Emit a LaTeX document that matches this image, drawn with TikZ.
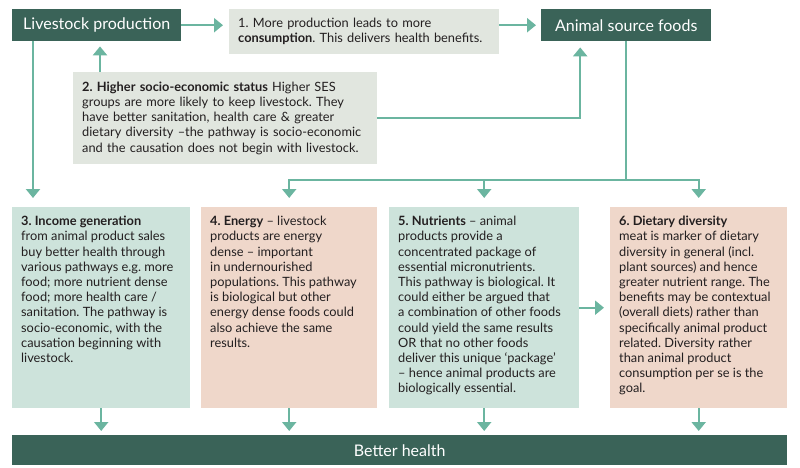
\documentclass[tikz,border=0pt]{standalone}
\usepackage{fontspec}
\setmainfont{Lato}
\usetikzlibrary{arrows.meta,positioning}

\definecolor{darkgreen}{HTML}{3A6358}
\definecolor{arrowgreen}{HTML}{6BB5A0}
\definecolor{greybox}{HTML}{E1E6DF}
\definecolor{mintbox}{HTML}{CDE3DB}
\definecolor{peachbox}{HTML}{EFD7CA}
\definecolor{inktext}{HTML}{231F20}

\newcommand\bodyfont{\fontsize{12.8}{15.2}\selectfont\frenchspacing}
\newcommand\panelbox[2]{\parbox[t][183pt][t]{#1}{\raggedright #2}}

\begin{document}
\begin{tikzpicture}[
  x=1pt, y=-1pt,
  header/.style={rectangle, fill=darkgreen, text=white, anchor=north west,
    minimum width=#1, minimum height=32pt, inner sep=0pt,
    font=\fontsize{16}{19}\selectfont},
  note/.style={rectangle, fill=greybox, text=inktext, anchor=north west,
    align=left, inner sep=9pt, font=\bodyfont},
  panel/.style={rectangle, fill=#1, text=inktext, anchor=north west,
    inner sep=9pt, minimum height=201pt, font=\bodyfont},
  link/.style={draw=arrowgreen, line width=2.4pt,
    -{Triangle[length=9pt,width=14pt]}},
  trunk/.style={draw=arrowgreen, line width=2.4pt}
]
\useasboundingbox (0,0) rectangle (800,468);

% top row
\node[header=169pt] (lp) at (12,9) {Livestock production};
\node[note, text width=252pt, minimum height=45pt] (b1) at (229,9)
  {1. More production leads to more\\ \textbf{consumption}. This delivers health benefits.};
\node[header=170pt] (asf) at (541,9) {Animal source foods};

\node[note, text width=286pt, minimum height=92pt] (b2) at (73,72)
  {\textbf{2. Higher socio-economic status} Higher SES\\
   groups are more likely to keep livestock. They\\
   have better sanitation, health care \& greater\\
   dietary diversity --the pathway is socio-economic\\
   and the causation does not begin with livestock.};

% pathways
\node[panel=mintbox] (b3) at (12,207) {\panelbox{160pt}{%
  \textbf{3. Income generation}\\ from animal product sales\\ buy better health through\\
  various pathways e.g. more\\ food; more nutrient dense\\ food; more health care /\\
  sanitation. The pathway is\\ socio-economic, with the\\ causation beginning with\\ livestock.}};
\node[panel=peachbox] (b4) at (201,207) {\panelbox{158pt}{%
  \textbf{4. Energy} -- livestock\\ products are energy\\ dense -- important\\
  in undernourished\\ populations. This pathway\\ is biological but other\\
  energy dense foods could\\ also achieve the same\\ results.}};
\node[panel=mintbox] (b5) at (389,207) {\panelbox{172pt}{%
  \textbf{5. Nutrients} -- animal\\ products provide a\\ concentrated package of\\
  essential micronutrients.\\ This pathway is biological. It\\ could either be argued that\\
  a combination of other foods\\ could yield the same results\\ OR that no other foods\\
  deliver this unique ‘package’\\ -- hence animal products are\\ biologically essential.}};
\node[panel=peachbox] (b6) at (610,207) {\panelbox{159pt}{%
  \textbf{6. Dietary diversity}\\ meat is marker of dietary\\ diversity in general (incl.\\
  plant sources) and hence\\ greater nutrient range. The\\ benefits may be contextual\\
  (overall diets) rather than\\ specifically animal product\\ related. Diversity rather\\
  than animal product\\ consumption per se is the\\ goal.}};

\node[header=775pt, minimum height=30pt] (bh) at (12,435) {Better health};

% connectors
\draw[link, shorten >=6pt] (lp.east) -- (lp.east -| b1.west);
\draw[link, shorten >=5pt] (b1.east |- asf.west) -- (asf.west);
\draw[link, shorten >=5pt] (b2.north -| 100,0) -- (lp.south -| 100,0);
\draw[link, shorten >=6pt] (b2.east) -| ([xshift=-46pt]asf.south);
\draw[link, shorten >=9pt] (lp.south -| 33,0) -- (b3.north -| 33,0);
\coordinate (fork) at (asf.south |- 0,180);
\draw[trunk] (asf.south) -- (fork);
\foreach \b in {b4,b5,b6}
  \draw[link, shorten >=9pt] (fork) -| (\b.north);
\draw[link, shorten >=6pt] (b5) -- (b6);
\foreach \b in {b3,b4,b5,b6}
  \draw[link, shorten >=4pt] (\b.south) -- (\b.south |- bh.north);
\end{tikzpicture}
\end{document}
